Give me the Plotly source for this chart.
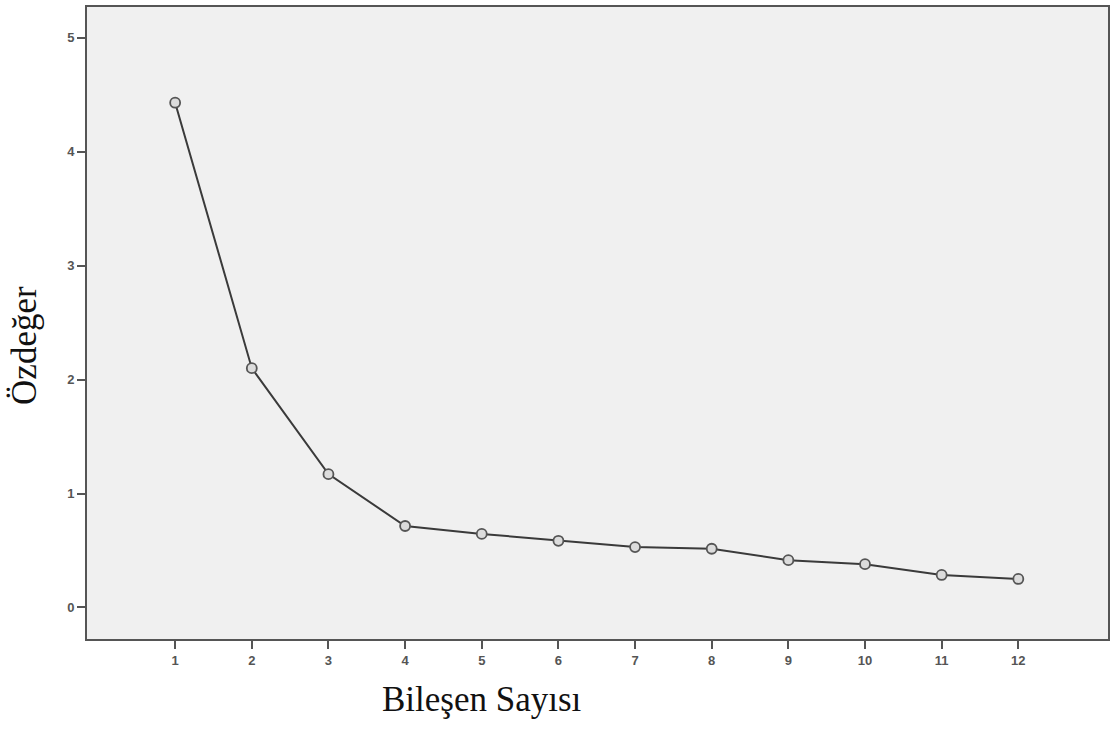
import plotly.graph_objects as go

components = list(range(1, 13))
eigenvalues = [4.43, 2.10, 1.17, 0.715, 0.645, 0.585, 0.53, 0.515, 0.415, 0.38, 0.285, 0.25]
x_ticks = list(range(1, 13))
y_ticks = [0, 1, 2, 3, 4, 5]
x_title = "Bileşen Sayısı"
y_title = "Özdeğer"

fig = go.Figure()
fig.add_trace(go.Scatter(
    x=components, y=eigenvalues, mode="lines+markers",
    line=dict(color="#3a3a3a", width=2),
    marker=dict(symbol="circle", size=10, color="#dcdcdc",
                line=dict(color="#555555", width=1.8)),
    showlegend=False,
))

axis_common = dict(showline=True, linecolor="#555555", linewidth=2, mirror=True,
                   ticks="outside", ticklen=8, tickwidth=2, tickcolor="#555555",
                   showgrid=False, zeroline=False,
                   tickfont=dict(family="Liberation Sans, Arial, sans-serif", size=13,
                                 color="#555555", weight="bold"))

fig.update_xaxes(range=[-0.15, 13.17], tickvals=x_ticks, ticktext=[str(t) for t in x_ticks], **axis_common)
fig.update_yaxes(range=[-0.277, 5.27], tickvals=y_ticks, ticktext=[str(t) for t in y_ticks], **axis_common)

fig.add_annotation(text=x_title, xref="paper", yref="paper", x=(482 - 87) / 1021, y=-(700 - 639) / 634,
                   showarrow=False, xanchor="center", yanchor="middle",
                   font=dict(family="Liberation Serif, Times New Roman, serif", size=35, color="#111111"))
fig.add_annotation(text=y_title, xref="paper", yref="paper", x=(25 - 87) / 1021, y=(639 - 345) / 634,
                   showarrow=False, xanchor="center", yanchor="middle", textangle=-90,
                   font=dict(family="Liberation Serif, Times New Roman, serif", size=35, color="#111111"))

fig.update_layout(
    width=1117, height=729,
    margin=dict(l=87, r=9, t=5, b=90),
    plot_bgcolor="#f0f0f0", paper_bgcolor="white",
)

fig.write_html("out.html", config={"displayModeBar": False},
               post_script="document.body.style.margin='0';")
